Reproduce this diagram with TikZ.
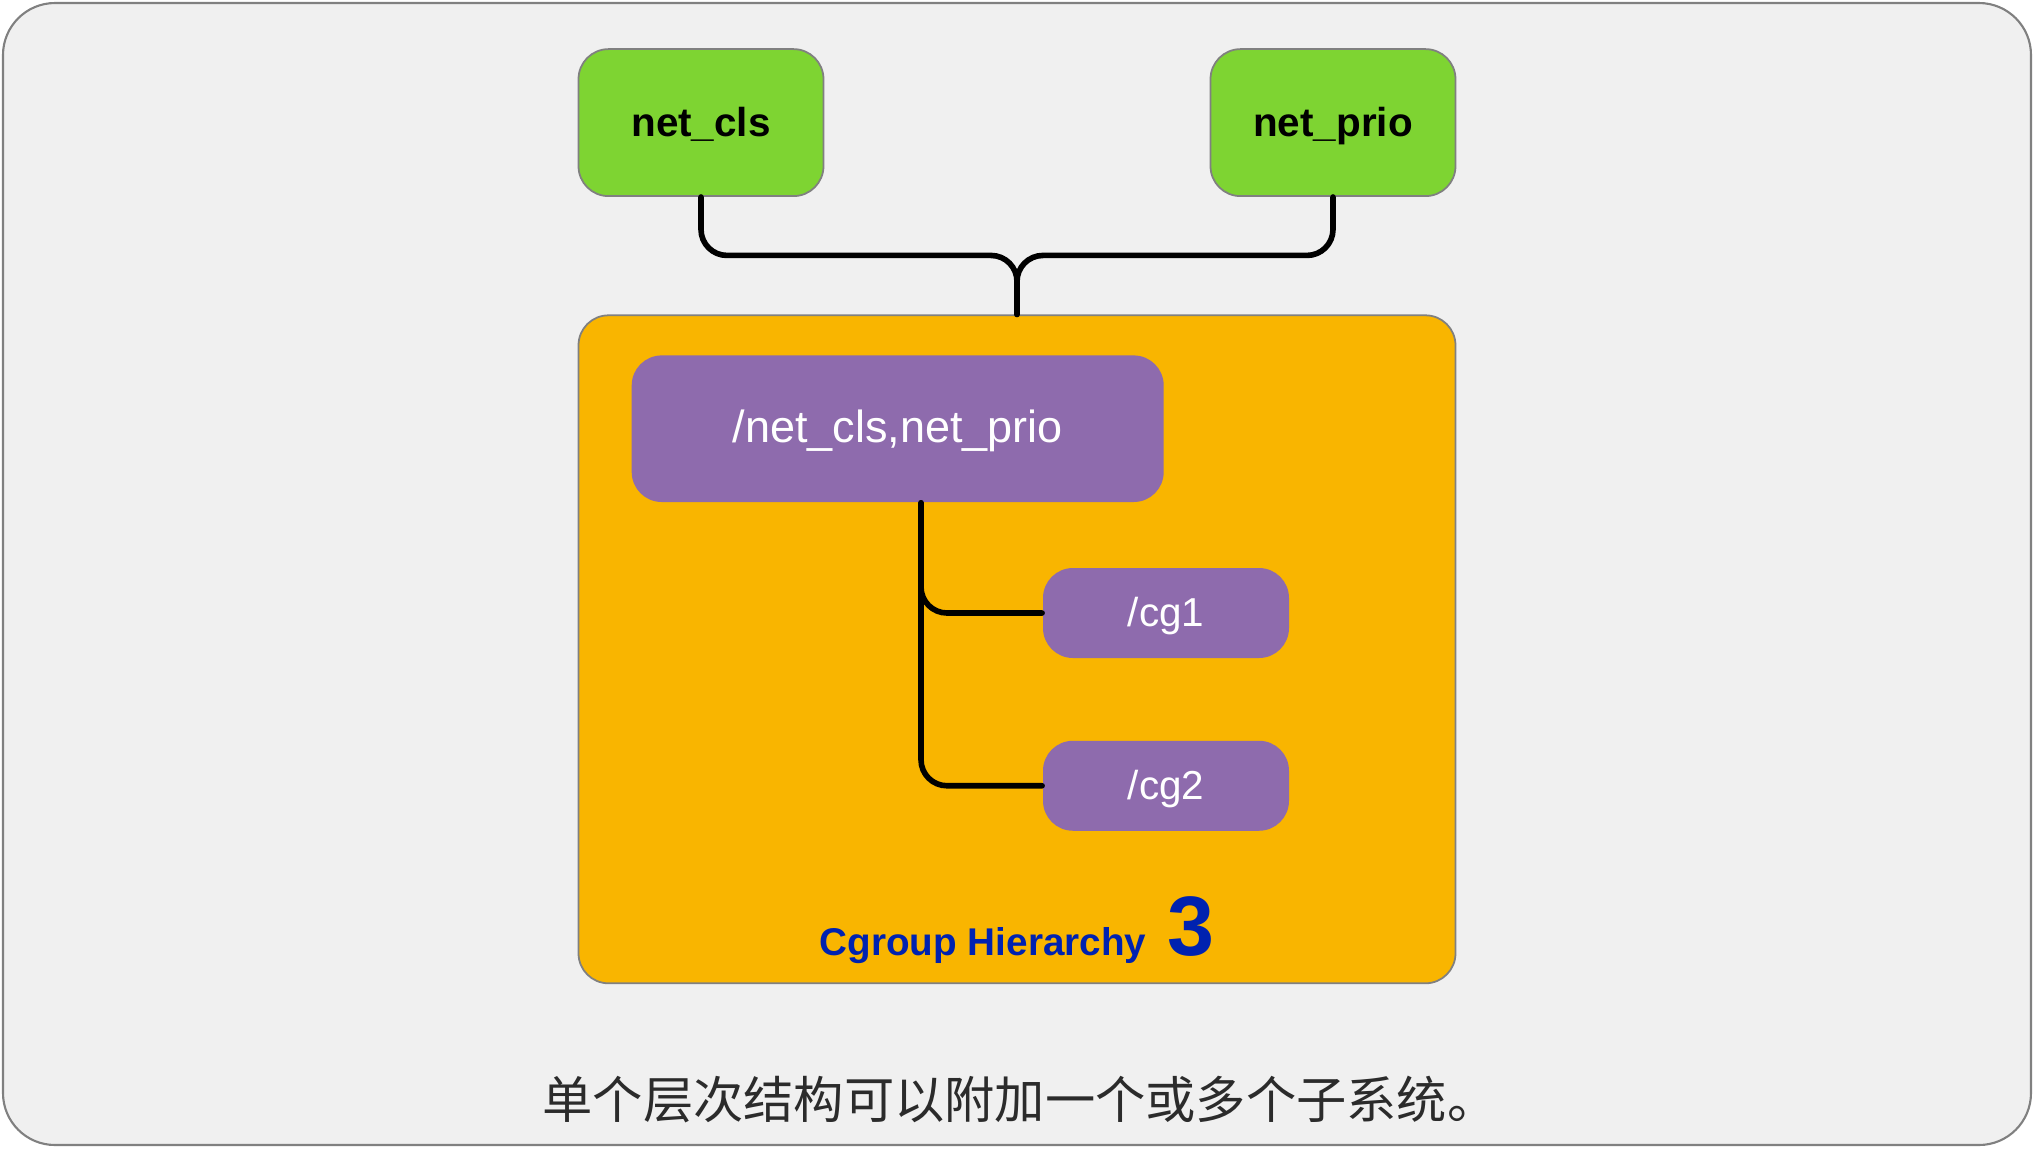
\documentclass[tikz,border=0pt]{standalone}
\usepackage{fontspec}
\setmainfont{Liberation Sans}
\newfontfamily\cjk{Noto Sans CJK SC}
\usetikzlibrary{positioning,calc}
\definecolor{pagegray}{HTML}{F0F0F0}
\definecolor{subgreen}{HTML}{7ED432}
\definecolor{hierorange}{HTML}{F9B500}
\definecolor{cgpurple}{HTML}{8E6BAD}
\definecolor{hierblue}{HTML}{0022B0}
\definecolor{captiongray}{HTML}{2B2B2B}

\begin{document}
\begin{tikzpicture}[
  box/.style={draw=gray, line width=0.5pt, rounded corners=0.3cm},
  subsys/.style={box, fill=subgreen, minimum width=2.45cm, minimum height=1.47cm, text height=0.93em, text depth=0.13em, font=\fontsize{11.5}{13}\selectfont\bfseries},
  cgroup/.style={box, draw=none, fill=cgpurple, text=white, minimum width=2.46cm, minimum height=0.9cm, text height=0.97em, text depth=0.21em, font=\fontsize{11.5}{13}\selectfont},
  wire/.style={line width=1.6pt, line cap=round, rounded corners=0.26cm}]
  \useasboundingbox (0,0) rectangle (20.34,-11.48);
  \draw[draw=gray, fill=pagegray, rounded corners=0.52cm, line width=0.6pt] (0.03,-0.03) rectangle (20.31,-11.45);

  % subsystems
  \node[subsys] (cls) at (7.01,-1.226) {net\_cls};
  \node[subsys] (prio) at (13.33,-1.226) {net\_prio};

  % hierarchy
  \node[box, fill=hierorange, minimum width=8.77cm, minimum height=6.68cm] (hier) at (10.17,-6.493) {};
  \node[cgroup, minimum width=5.32cm, minimum height=1.466cm, font=\fontsize{12.8}{15}\selectfont] (root) at (8.977,-4.287) {/net\_cls,net\_prio};
  \node[cgroup] (cg1) at (11.66,-6.13) {/cg1};
  \node[cgroup, below=0.81cm of cg1] (cg2) {/cg2};
  \node[anchor=base, text=hierblue, font=\bfseries, inner sep=0pt] (hiername) at ($(hier.south)+(0,0.29)$)
    {{\fontsize{11}{13}\selectfont Cgroup Hierarchy}\hspace{6pt}{\fontsize{24}{26}\selectfont 3}};

  % links
  \coordinate[above=0.59cm of hier.north] (hub);
  \draw[wire] (cls.south) |- (hub) -- (hier.north);
  \draw[wire] (prio.south) |- (hub) -- (hier.north);
  \coordinate (trunk) at ($(root.south)+(0.233,0)$);
  \draw[wire] (trunk) |- (cg1.west);
  \draw[wire] (trunk) |- (cg2.west);

  % caption
  \node[text=captiongray, font=\cjk\fontsize{14.3}{16}\selectfont, inner sep=0pt] (caption) at (10.2,-11.0)
    {单个层次结构可以附加一个或多个子系统。};
\end{tikzpicture}
\end{document}
